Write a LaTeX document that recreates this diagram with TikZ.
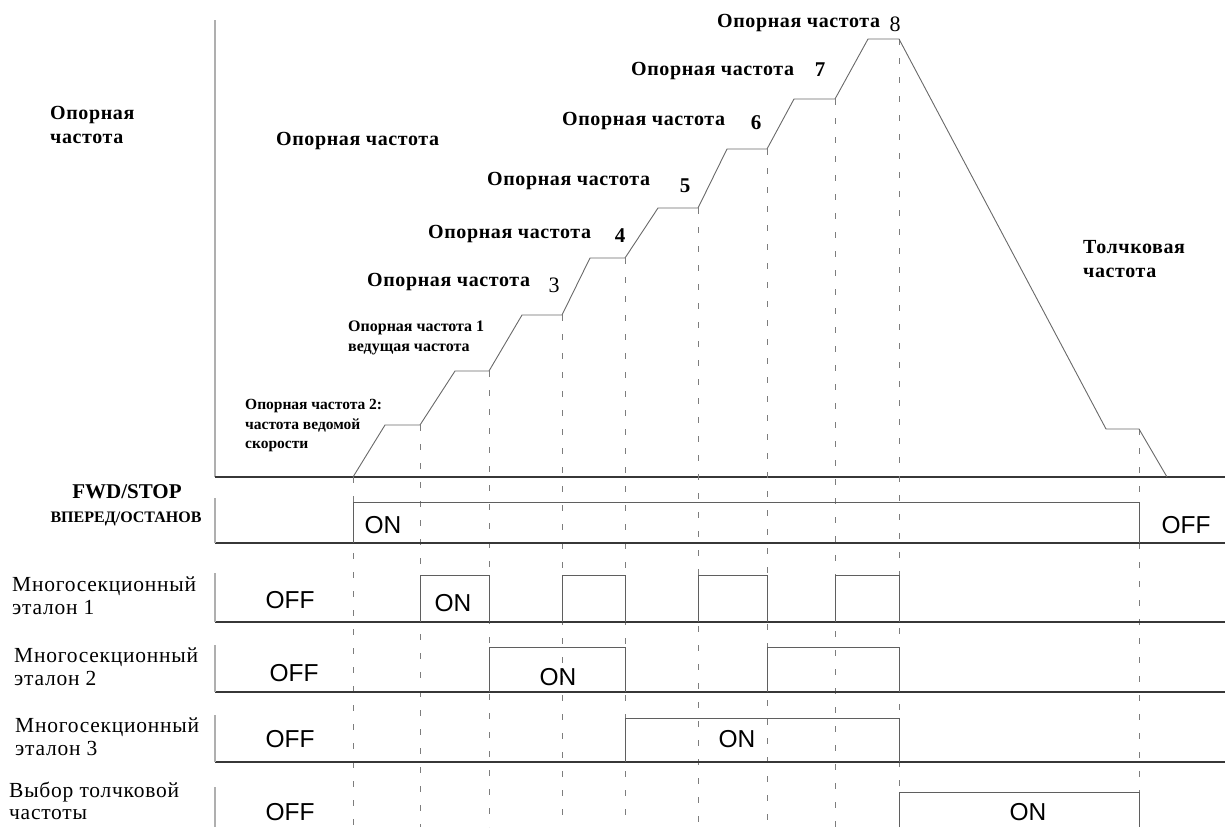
\documentclass[tikz,border=0pt]{standalone}
\usepackage{fontspec}
\setmainfont{Liberation Serif}
\newfontfamily\sansf{Liberation Sans}
\newfontfamily\spserif[LetterSpace=3]{Liberation Serif}
\newfontfamily\spserifw[LetterSpace=3.5]{Liberation Serif}
\definecolor{curvegray}{RGB}{105,105,105}
\definecolor{axisgray}{RGB}{175,175,175}
\definecolor{basegray}{RGB}{55,55,55}
\definecolor{pulsegray}{RGB}{95,95,95}
\definecolor{dashgray}{RGB}{125,125,125}
\tikzset{
  curveln/.style={draw=curvegray, line width=0.9pt, line join=round},
  axisln/.style={draw=axisgray, line width=1.3pt},
  baseln/.style={draw=basegray, line width=1.2pt},
  pulseln/.style={draw=pulsegray, line width=1pt},
  dashln/.style={draw=dashgray, line width=0.9pt, dash pattern=on 6pt off 13pt},
  reflbl/.style={inner sep=0pt, anchor=west, align=left, font=\spserif\bfseries\fontsize{20}{24}\selectfont},
  smlbl/.style={inner sep=0pt, anchor=west, align=left, font=\bfseries\fontsize{16}{20}\selectfont},
  numlbl/.style={inner sep=0pt, font=\bfseries\fontsize{21}{24}\selectfont},
  numlblr/.style={inner sep=0pt, font=\fontsize{22}{24}\selectfont},
  rowlbl/.style={inner sep=0pt, anchor=west, align=left, font=\spserifw\fontsize{21.5}{23}\selectfont},
  onoff/.style={inner sep=0pt, font=\sansf\fontsize{24.5}{27}\selectfont}
}
\begin{document}
\begin{tikzpicture}[x=1pt, y=-1pt]
\useasboundingbox (0,0) rectangle (1225,827);
% axes
\draw[axisln] (215,20) -- (215,477);
\draw[baseln] (215,477) -- (1225,477);
% dashed guides
\foreach \x/\y in {353/477,420/425,489/371,562/315,625/258,698/208,767/149,835/99,899/39,1139/429}
  \draw[dashln] (\x,\y) -- (\x,827);
% frequency curve
\draw[curveln] (353,477) -- (385,425) -- (420,425) -- (455,371) -- (489,371)
  -- (522,315) -- (562,315) -- (590,258) -- (625,258) -- (658,208) -- (698,208)
  -- (727,149) -- (767,149) -- (794,99) -- (835,99) -- (868,39) -- (899,39)
  -- (1106,429) -- (1139,429) -- (1167,477);
% timing rows: baselines
\draw[baseln] (215,543) -- (1225,543);
\draw[baseln] (215,622) -- (1225,622);
\draw[baseln] (215,692) -- (1225,692);
\draw[baseln, line width=1.6pt] (215,762) -- (1225,762);
% left verticals
\draw[axisln] (215,498) -- (215,543);
\draw[axisln] (215,573) -- (215,622);
\draw[axisln] (215,645) -- (215,692);
\draw[axisln] (215,715) -- (215,762);
\draw[axisln] (215,787) -- (215,827);
% pulses
\draw[pulseln] (353,543) -- (353,502) -- (1139,502) -- (1139,543);
\foreach \a/\b in {420/489,562/625,698/767,835/899}
  \draw[pulseln] (\a,622) -- (\a,575) -- (\b,575) -- (\b,622);
\foreach \a/\b in {489/625,767/899}
  \draw[pulseln] (\a,692) -- (\a,647) -- (\b,647) -- (\b,692);
\draw[pulseln] (625,762) -- (625,718) -- (899,718) -- (899,762);
\draw[pulseln] (899,827) -- (899,792) -- (1139,792) -- (1139,827);
% frequency labels
\node[reflbl] (f0) at (50,125) {Опорная\\частота};
\node[reflbl] (f1) at (276,141) {Опорная частота};
\node[reflbl] (f3) at (367,282) {Опорная частота};
\node[numlblr] (n3) at (554,285) {3};
\node[reflbl] (f4) at (428,234) {Опорная частота};
\node[numlbl] (n4) at (620,236) {4};
\node[reflbl] (f5) at (487,181) {Опорная частота};
\node[numlbl] (n5) at (685,186) {5};
\node[reflbl] (f6) at (562,121) {Опорная частота};
\node[numlbl] (n6) at (756,123) {6};
\node[reflbl] (f7) at (631,71) {Опорная частота};
\node[numlbl] (n7) at (820,70) {7};
\node[reflbl] (f8) at (717,23) {Опорная частота};
\node[numlblr] (n8) at (895,24) {8};
\node[reflbl] (fj) at (1083,259) {Толчковая\\частота};
\node[smlbl] (fr1) at (348,338) {Опорная частота 1\\ведущая частота};
\node[smlbl, font=\bfseries\fontsize{15.5}{19.5}\selectfont] (fr2) at (245,426) {Опорная частота 2:\\частота ведомой\\скорости};
% row labels
\node[inner sep=0pt, font=\bfseries\fontsize{21}{22}\selectfont] (fwd) at (127,492) {FWD/STOP};
\node[inner sep=0pt, font=\bfseries\fontsize{16}{18}\selectfont] (vpr) at (126,519) {ВПЕРЕД/ОСТАНОВ};
\node[rowlbl] (r1) at (12,596) {Многосекционный\\эталон 1};
\node[rowlbl] (r2) at (14,667) {Многосекционный\\эталон 2};
\node[rowlbl] (r3) at (15,737) {Многосекционный\\эталон 3};
\node[rowlbl, font=\spserifw\fontsize{21.5}{22}\selectfont] (r4) at (9,801) {Выбор толчковой\\частоты};
% ON/OFF
\node[onoff] (s0a) at (383,525) {ON};
\node[onoff] (s0b) at (1186,525) {OFF};
\node[onoff] (s1a) at (290,600) {OFF};
\node[onoff] (s1b) at (453,603) {ON};
\node[onoff] (s2a) at (294,673) {OFF};
\node[onoff] (s2b) at (558,677) {ON};
\node[onoff] (s3a) at (290,739) {OFF};
\node[onoff] (s3b) at (737,739) {ON};
\node[onoff] (s4a) at (290,812) {OFF};
\node[onoff] (s4b) at (1028,812) {ON};
\end{tikzpicture}
\end{document}
